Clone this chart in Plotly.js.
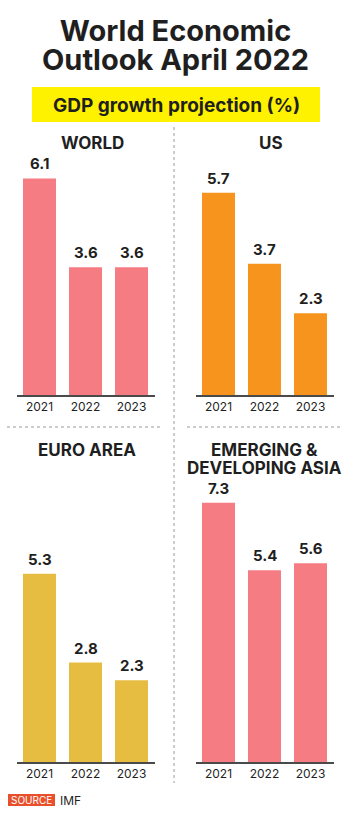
<!DOCTYPE html>
<html><head><meta charset="utf-8">
<script src="https://cdn.plot.ly/plotly-3.0.1.min.js"></script>
<style>html,body{margin:0;padding:0;background:#fff}</style>
</head><body><div id="chart" style="width:350px;height:824px"></div>
<script>
// ---- data ----
const years = ['2021', '2022', '2023'];
const panelTitles = [['WORLD'], ['US'], ['EURO AREA'], ['EMERGING &', 'DEVELOPING ASIA']];
const world = [6.1, 3.6, 3.6];
const us = [5.7, 3.7, 2.3];
const euro = [5.3, 2.8, 2.3];
const asia = [7.3, 5.4, 5.6];
const mainTitleLines = ['World Economic', 'Outlook April 2022'];
const subTitle = 'GDP growth projection (%)';
const sourceLabel = 'SOURCE';
const sourceText = 'IMF';

// ---- layout helpers (pixel -> paper) ----
const W = 350, H = 824;
const px = v => v / W;
const py = v => 1 - v / H;
const FONT = 'Inter, "Open Sans", sans-serif';
const DARK = '#1f1f1f';

// multi-line text with tight line spacing: line pitch = 1.3 * base size,
// glyphs drawn at glyphSize via inline span
function tightLines(lines, glyphSize) {
  return lines.map(l => '<span style="font-size:' + glyphSize + 'px">' + l + '</span>').join('<br>');
}

const series = [world, us, euro, asia];
const colors = ['#f47c82', '#f7941d', '#e6bd40', '#f47c82'];
const xDom = [[16.5, 154.5], [195.5, 333.5], [16.5, 154.5], [195.5, 333.5]];
const yDom = [[115, 395], [115, 395], [482, 762], [482, 762]];
const yMax = 280 / 35.5;
const titlePos = [[92, 143], [271, 143], [87, 450], [264, 459]];

const traces = [];
const layout = {
  width: W, height: H,
  margin: {l: 0, r: 0, t: 0, b: 0},
  paper_bgcolor: '#fff', plot_bgcolor: '#fff',
  showlegend: false,
  bargap: 0.283,
  annotations: [], shapes: []
};

series.forEach((vals, i) => {
  const n = i === 0 ? '' : String(i + 1);
  traces.push({
    type: 'bar', x: years, y: vals,
    xaxis: 'x' + n, yaxis: 'y' + n,
    marker: {color: colors[i], line: {width: 0}},
    hoverinfo: 'none'
  });
  layout['xaxis' + n] = {
    domain: [px(xDom[i][0]), px(xDom[i][1])],
    anchor: 'y' + n,
    type: 'category',
    range: [-0.5, years.length - 0.5],
    autorange: false,
    showgrid: false, zeroline: false,
    showline: true, linecolor: '#4a4a4a', linewidth: 1.5,
    ticks: '', ticklen: 0,
    tickfont: {family: FONT, size: 12, color: DARK},
    fixedrange: true
  };
  layout['yaxis' + n] = {
    domain: [py(yDom[i][1]), py(yDom[i][0])],
    anchor: 'x' + n,
    range: [0, yMax], autorange: false,
    visible: false, showgrid: false, zeroline: false,
    fixedrange: true
  };
  vals.forEach((v, j) => {
    layout.annotations.push({
      xref: 'x' + n, yref: 'y' + n, x: j, y: v,
      text: v.toFixed(1), showarrow: false,
      yanchor: 'bottom', yshift: 4, borderpad: 0,
      font: {family: FONT, size: 15, weight: 700, color: DARK}
    });
  });
  const multi = panelTitles[i].length > 1;
  layout.annotations.push({
    xref: 'paper', yref: 'paper', x: px(titlePos[i][0]), y: py(titlePos[i][1]),
    xanchor: 'center', yanchor: 'middle', borderpad: 0,
    text: multi ? tightLines(panelTitles[i], 17) : panelTitles[i][0],
    showarrow: false,
    font: {family: FONT, size: multi ? 14.2 : 17, weight: 700, color: DARK}
  });
});

// main title (two lines, 29px pitch)
layout.annotations.push({
  xref: 'paper', yref: 'paper', x: 0.5, y: py(45), xanchor: 'center', yanchor: 'middle',
  text: tightLines(mainTitleLines, 29), showarrow: false, borderpad: 0,
  font: {family: FONT, size: 22.3, weight: 700, color: DARK}
});
// yellow sub-title box
layout.shapes.push({
  type: 'rect', xref: 'paper', yref: 'paper',
  x0: px(32), x1: px(320), y0: py(122), y1: py(87),
  fillcolor: '#fff200', line: {width: 0}, layer: 'below'
});
layout.annotations.push({
  xref: 'paper', yref: 'paper', x: px(176), y: py(105), xanchor: 'center', yanchor: 'middle',
  text: subTitle, showarrow: false,
  font: {family: FONT, size: 19, weight: 700, color: DARK}
});
// dotted dividers
layout.shapes.push({
  type: 'line', xref: 'paper', yref: 'paper',
  x0: px(174), x1: px(174), y0: py(127), y1: py(783),
  line: {color: '#9a9a9a', width: 1, dash: 'dot'}
});
layout.shapes.push({
  type: 'line', xref: 'paper', yref: 'paper',
  x0: px(7), x1: px(163), y0: py(427), y1: py(427),
  line: {color: '#9a9a9a', width: 1, dash: 'dot'}
});
layout.shapes.push({
  type: 'line', xref: 'paper', yref: 'paper',
  x0: px(187), x1: px(342), y0: py(427), y1: py(427),
  line: {color: '#9a9a9a', width: 1, dash: 'dot'}
});
// source
layout.shapes.push({
  type: 'rect', xref: 'paper', yref: 'paper',
  x0: px(8), x1: px(55), y0: py(806), y1: py(794),
  fillcolor: '#e8502b', line: {width: 0}
});
layout.annotations.push({
  xref: 'paper', yref: 'paper', x: px(31.5), y: py(800), xanchor: 'center', yanchor: 'middle',
  text: sourceLabel, showarrow: false,
  font: {family: FONT, size: 10, color: '#ffffff'}
});
layout.annotations.push({
  xref: 'paper', yref: 'paper', x: px(58), y: py(800), xanchor: 'left', yanchor: 'middle',
  text: sourceText, showarrow: false,
  font: {family: FONT, size: 12, color: DARK}
});

Plotly.newPlot('chart', traces, layout, {displayModeBar: false, staticPlot: true});
</script>
</body></html>
